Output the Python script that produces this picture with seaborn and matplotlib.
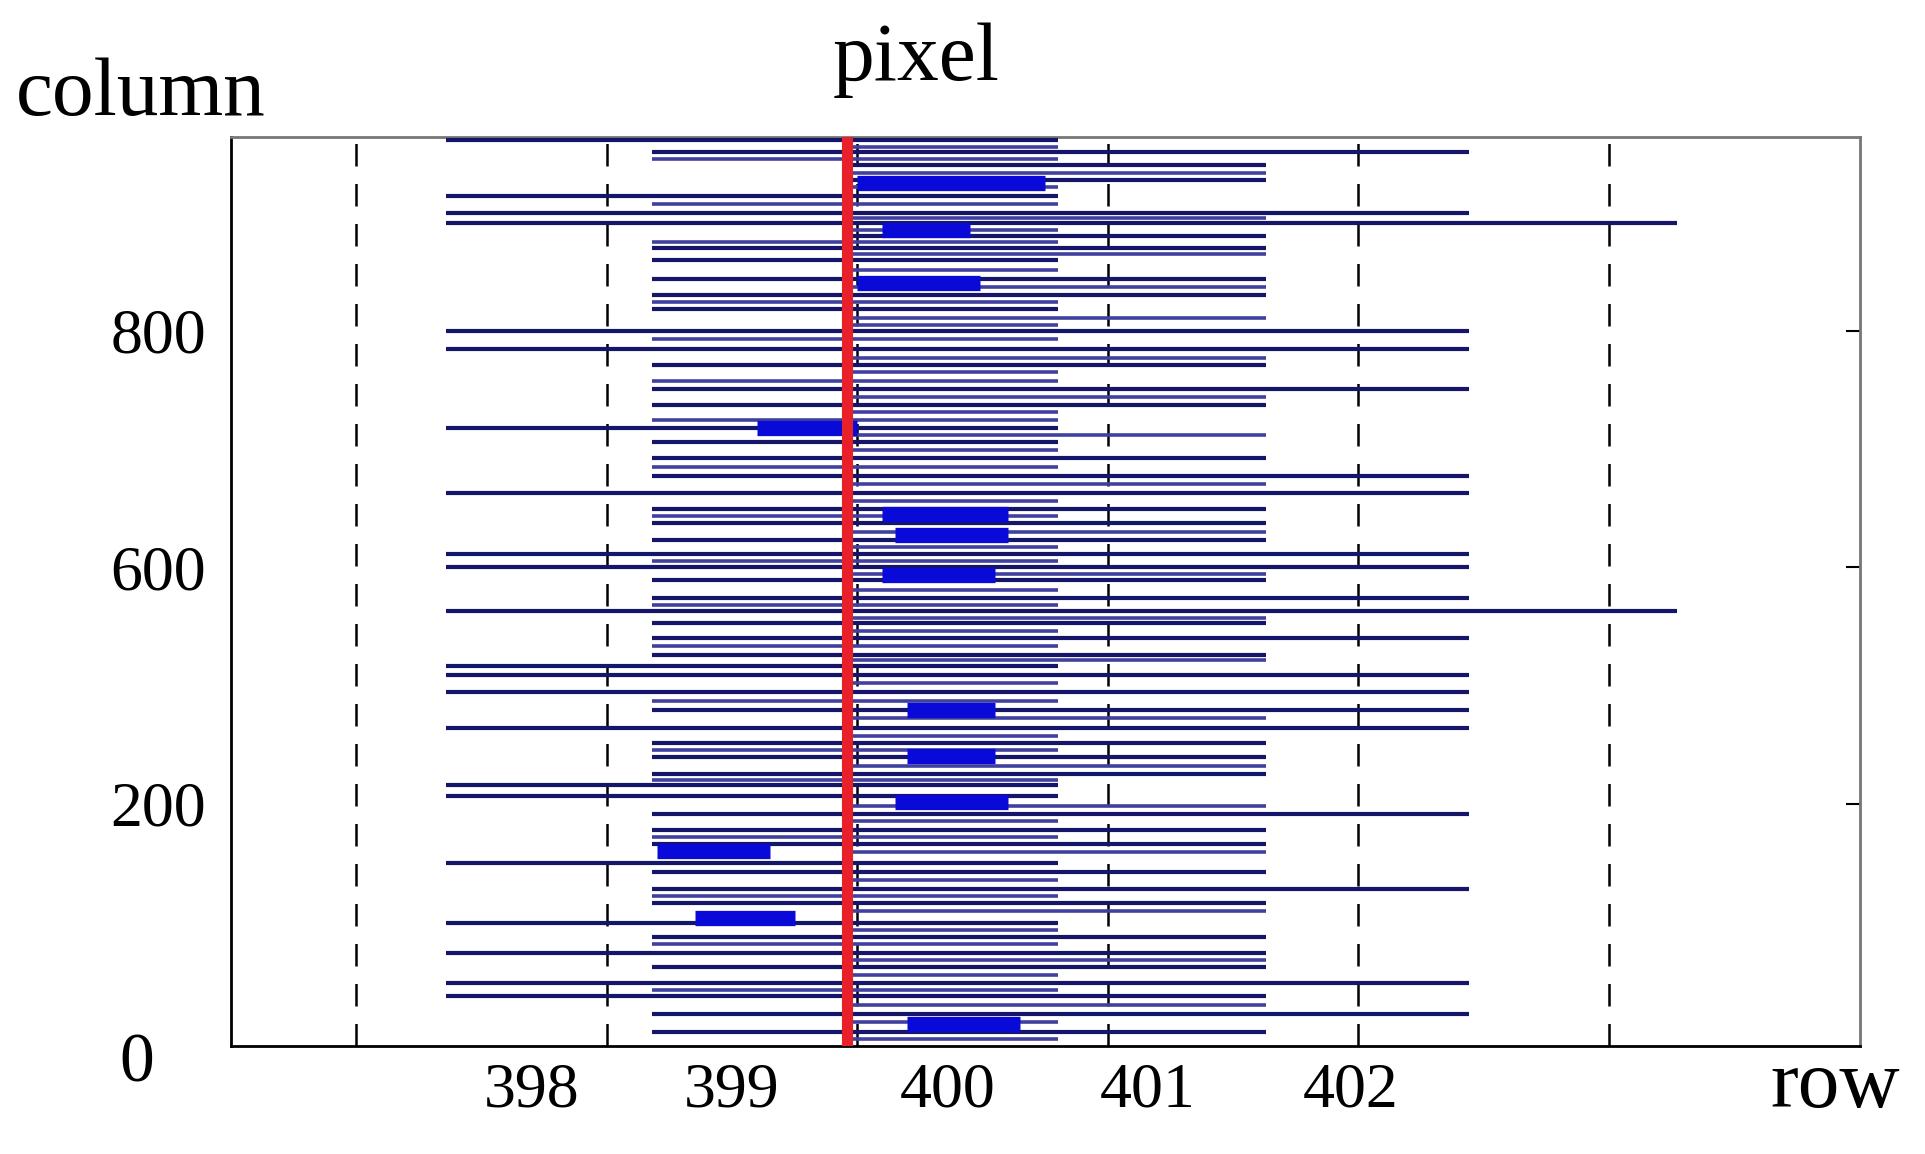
import numpy as np
import matplotlib
matplotlib.use("Agg")
import matplotlib.pyplot as plt
import seaborn as sns

# column position of every scan line
line_y = [766, 756, 745, 732, 719, 704, 696, 685, 675, 665, 649, 635, 623, 605,
          589, 576, 556, 542, 523, 511, 497, 482, 468, 454, 442, 428, 416, 405,
          394, 379, 368, 358, 345, 331, 321, 314, 299, 284, 269, 256, 244, 230,
          221, 211, 196, 183, 171, 155, 147, 133, 121, 104, 92, 79, 67, 53, 42,
          27, 12]
# start / end row of each line
line_x0 = [396.86, 397.68, 398.46, 398.46, 396.86, 396.86, 396.86, 398.46, 397.68,
           397.68, 397.68, 397.68, 397.68, 396.86, 396.86, 397.68, 397.68, 397.68,
           396.86, 397.68, 397.68, 397.68, 396.86, 397.68, 397.68, 397.68, 396.86,
           396.86, 397.68, 397.68, 396.86, 397.68, 397.68, 397.68, 396.86, 396.86,
           396.86, 397.68, 396.86, 397.68, 397.68, 397.68, 396.86, 396.86, 397.68,
           397.68, 397.68, 396.86, 397.68, 397.68, 397.68, 396.86, 397.68, 396.86,
           397.68, 396.86, 396.86, 397.68, 397.68]
line_x1 = [399.30, 400.94, 400.13, 400.13, 399.30, 400.94, 401.77, 400.13, 400.13,
           399.30, 400.13, 400.13, 399.30, 400.94, 400.94, 400.13, 400.94, 400.13,
           399.30, 399.30, 400.13, 400.94, 400.94, 400.13, 400.13, 400.13, 400.94,
           400.94, 400.13, 400.94, 401.77, 400.13, 400.94, 400.13, 399.30, 400.94,
           400.94, 400.94, 400.94, 400.13, 400.13, 400.13, 399.30, 399.30, 400.94,
           400.13, 400.13, 399.30, 400.13, 400.94, 400.13, 399.30, 400.13, 400.13,
           400.13, 400.94, 400.13, 400.94, 400.13]

# short filler lines in the dense middle band
fill_y = [760, 750, 738, 726, 712, 700, 690, 680, 670, 656, 642, 629, 616, 610,
          598, 582, 570, 562, 549, 536, 529, 517, 504, 490, 475, 461, 448, 435,
          422, 410, 399, 386, 373, 362, 351, 338, 326, 307, 292, 277, 262, 250,
          237, 225, 203, 190, 177, 164, 140, 127, 114, 98, 86, 73, 60, 47, 35, 20, 6]
fill_x0 = [398.46, 397.68, 398.46, 398.46, 397.68, 398.46, 398.46, 397.68, 398.46,
           398.46, 398.46, 397.68, 398.46, 398.46, 397.68, 398.46, 398.46, 397.68,
           398.46, 398.46, 397.68, 398.46, 398.46, 397.68, 398.46, 398.46, 397.68,
           398.46, 398.46, 397.68, 398.46, 398.46, 397.68, 398.46, 398.46, 397.68,
           398.46, 398.46, 397.68, 398.46, 398.46, 397.68, 398.46, 397.68, 398.46,
           398.46, 397.68, 398.46, 398.46, 397.68, 398.46, 398.46, 397.68, 398.46,
           398.46, 397.68, 398.46, 398.46, 398.46]
fill_x1 = [399.30, 399.30, 400.13, 399.30, 399.30, 400.13, 399.30, 399.30, 400.13,
           399.30, 400.13, 399.30, 400.13, 399.30, 399.30, 400.13, 399.30, 399.30,
           400.13, 399.30, 399.30, 400.13, 399.30, 399.30, 400.13, 399.30, 399.30,
           400.13, 399.30, 399.30, 400.13, 399.30, 399.30, 400.13, 399.30, 399.30,
           400.13, 399.30, 399.30, 400.13, 399.30, 399.30, 400.13, 399.30, 400.13,
           399.30, 399.30, 400.13, 399.30, 399.30, 400.13, 399.30, 399.30, 400.13,
           399.30, 399.30, 400.13, 399.30, 399.30]

# thick bright blue segments
blob_y = [730, 690, 645, 523, 450, 432, 398, 284, 245, 206, 165, 108, 19]
blob_x0 = [398.5, 398.6, 398.5, 398.1, 398.6, 398.65, 398.6, 398.7, 398.7, 398.65, 397.7, 397.85, 398.7]
blob_x1 = [399.25, 398.95, 398.99, 398.5, 399.1, 399.1, 399.05, 399.05, 399.05, 399.1, 398.15, 398.25, 399.15]

grid_x = [396.5, 397.5, 398.5, 399.5, 400.5, 401.5]
pixel_x = 398.46
xtick_pos = [397.2, 398.0, 398.86, 399.66, 400.47]
xtick_labels = ["398", "399", "400", "401", "402"]
ytick_pos = [205, 405, 605]
ytick_labels = ["200", "600", "800"]

sns.set_style("white")
plt.rcParams['font.family'] = ['Liberation Serif', 'DejaVu Serif']
plt.rcParams['text.color'] = 'black'
plt.rcParams['xtick.color'] = 'black'
plt.rcParams['ytick.color'] = 'black'
plt.rcParams['xtick.labelcolor'] = 'black'
plt.rcParams['ytick.labelcolor'] = 'black'

fig = plt.figure(figsize=(19.25, 11.54), dpi=100)
ax = fig.add_axes([0.12, 0.0936, 0.846, 0.788])

for gx in grid_x:
    ax.axvline(gx, color='black', linestyle=(0, (9, 7)), linewidth=1.8, zorder=1)

ax.hlines(fill_y, fill_x0, fill_x1, color='#4040a0', linewidth=2.6, zorder=2)
ax.hlines(line_y, line_x0, line_x1, color='#15156a', linewidth=3.0, zorder=3)
ax.hlines(blob_y, blob_x0, blob_x1, color='#0a0ad8', linewidth=11, zorder=4)
ax.axvline(pixel_x, color='#e8202a', linewidth=8, zorder=5)

ax.set_xlim(396.0, 402.5)
ax.set_ylim(0, 769)
ax.set_xticks(xtick_pos)
ax.set_xticklabels(xtick_labels)
ax.set_yticks(ytick_pos)
ax.set_yticklabels(ytick_labels)
ax.tick_params(axis='both', labelsize=46, length=0, pad=18)
ax.tick_params(axis='x', pad=12)

# small tick marks on the right spine
ax2 = ax.secondary_yaxis('right')
ax2.set_yticks(ytick_pos)
ax2.set_yticklabels([])
ax2.tick_params(direction='in', length=10, width=1.5)
for name, s in ax.spines.items():
    s.set_color('black' if name in ('left', 'bottom') else '#777777')
    s.set_linewidth(2)

fig.text(0.008, 0.885, "column", fontsize=60, ha='left', va='bottom')
fig.text(0.476, 0.915, "pixel", fontsize=60, ha='center', va='bottom')
fig.text(0.987, 0.025, "row", fontsize=60, ha='right', va='bottom')
fig.text(0.062, 0.05, "0", fontsize=50, ha='left', va='bottom')

fig.savefig("out.png", dpi=100)
